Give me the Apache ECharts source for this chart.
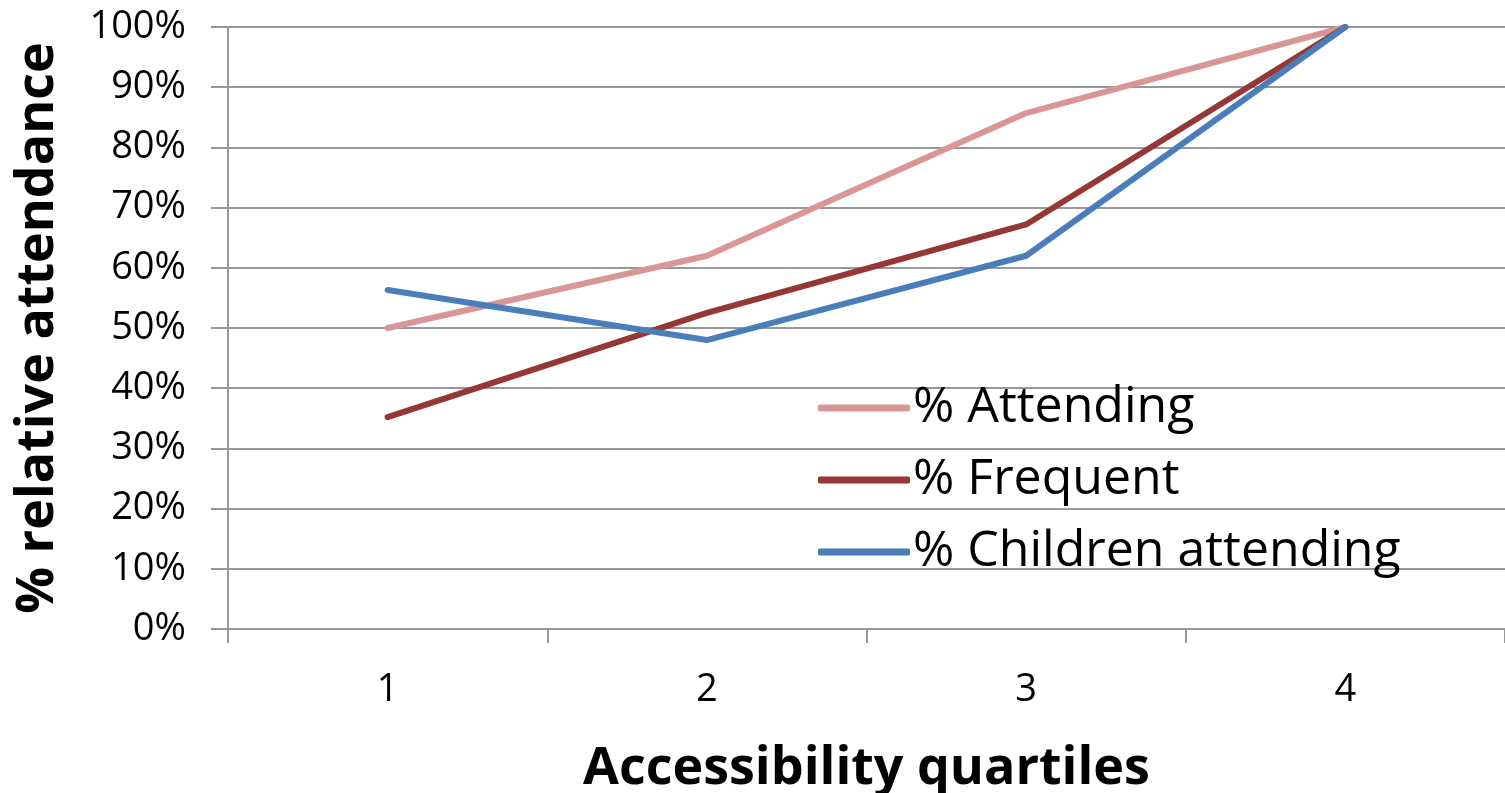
<!DOCTYPE html>
<html>
<head>
<meta charset="utf-8">
<script src="https://cdn.jsdelivr.net/npm/echarts@6/dist/echarts.min.js"></script>
<style>
  html, body { margin: 0; padding: 0; background: #fff; }
  #chart { width: 1505px; height: 793px; }
</style>
</head>
<body>
<div id="chart"></div>
<script>
// Accessibility quartiles on the x axis
const quartiles = ['1', '2', '3', '4'];

// Relative attendance per quartile, in percent
const attending = [50, 62, 85.7, 100];
const frequent = [35.2, 52.5, 67.2, 100];
const childrenAttending = [56.3, 48, 62, 100];

const seriesNames = ['% Attending', '% Frequent', '% Children attending'];
const seriesColors = ['#D99694', '#953735', '#4A7EBB'];
const seriesValues = [attending, frequent, childrenAttending];

const fontFamily = '"Open Sans", Lato, sans-serif';
const gridColor = '#989898';

const chart = echarts.init(document.getElementById('chart'), null, { renderer: 'canvas' });

chart.setOption({
  animation: false,
  backgroundColor: '#fff',
  grid: { left: 228, right: 0, top: 27, bottom: 164, containLabel: false, outerBoundsMode: 'none' },
  legend: {
    orient: 'vertical',
    left: 813,
    top: 378,
    padding: 5,
    itemWidth: 92,
    itemHeight: 7,
    itemGap: 22,
    icon: 'roundRect',
    textStyle: { fontFamily, fontSize: 50, lineHeight: 50, color: '#000', padding: [0, 0, 0, -2] },
    data: seriesNames
  },
  xAxis: {
    type: 'category',
    data: quartiles,
    boundaryGap: true,
    name: 'Accessibility quartiles',
    nameLocation: 'middle',
    nameGap: 114,
    nameTextStyle: { fontFamily, fontSize: 52, fontWeight: 'bold', color: '#000' },
    axisLine: { lineStyle: { color: gridColor, width: 2 } },
    axisTick: { show: true, length: 14, lineStyle: { color: gridColor, width: 2 } },
    axisLabel: { fontFamily, fontSize: 38, color: '#000', margin: 42 }
  },
  yAxis: {
    type: 'value',
    min: 0,
    max: 100,
    interval: 10,
    name: '% relative attendance',
    nameLocation: 'middle',
    nameGap: 164,
    nameTextStyle: { fontFamily, fontSize: 52, fontWeight: 'bold', color: '#000' },
    axisLine: { show: true, lineStyle: { color: gridColor, width: 2 } },
    axisTick: { show: true, length: 17, lineStyle: { color: gridColor, width: 2 } },
    axisLabel: { fontFamily, fontSize: 38, color: '#000', margin: 42, formatter: '{value}%' },
    splitLine: { show: true, lineStyle: { color: gridColor, width: 2 } }
  },
  series: seriesValues.map((vals, i) => ({
    name: seriesNames[i],
    type: 'line',
    data: vals,
    symbol: 'none',
    color: seriesColors[i],
    lineStyle: { width: 6, color: seriesColors[i], cap: 'round', join: 'round' },
    itemStyle: { color: seriesColors[i] }
  }))
});
</script>
</body>
</html>
